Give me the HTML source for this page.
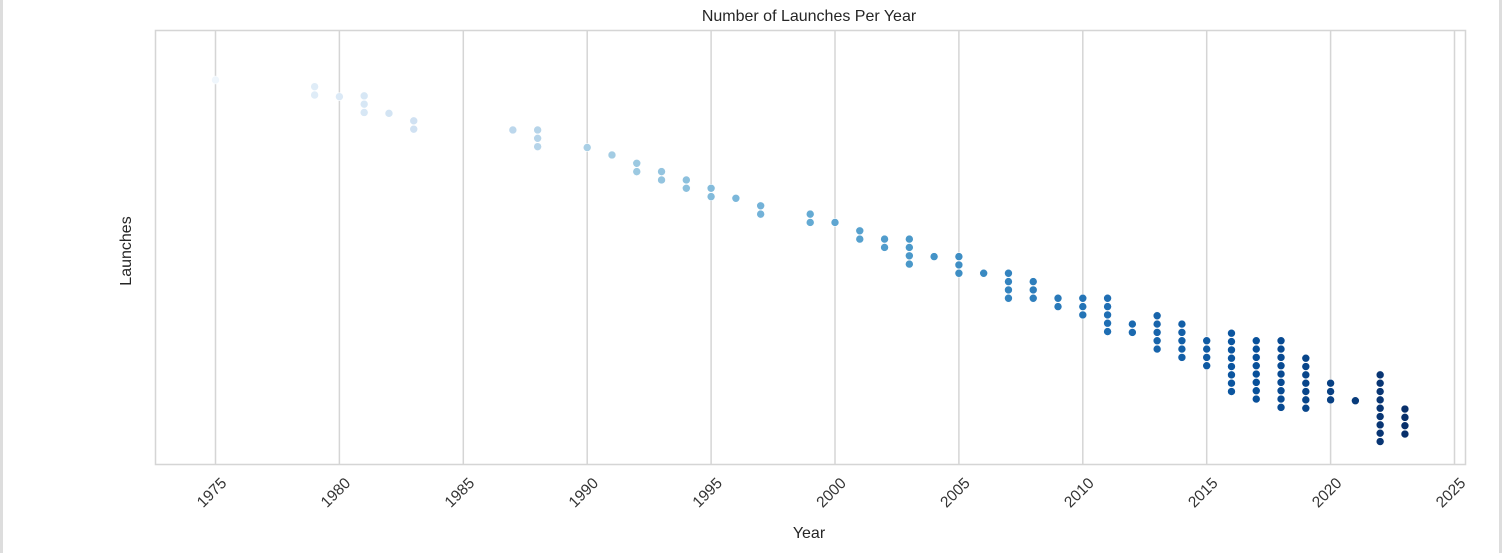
<!DOCTYPE html>
<html><head><meta charset="utf-8"><style>
body{margin:0;background:#fff;width:1502px;height:553px;overflow:hidden;font-family:"Liberation Sans",sans-serif;}
#frame{position:absolute;left:0;top:0;width:1502px;height:553px;box-sizing:border-box;border-left:3px solid #ddd;border-right:3px solid #ddd;}
</style></head><body>
<div id="frame"></div>
<svg id="chart" width="1502" height="553" style="position:absolute;left:0;top:0">
<text x="809" y="21" text-anchor="middle" font-size="16" fill="#262626">Number of Launches Per Year</text>
<text x="809" y="538" text-anchor="middle" font-size="16" fill="#262626">Year</text>
<text transform="translate(131,251) rotate(-90)" text-anchor="middle" font-size="16" fill="#262626">Launches</text>
<g id="grid"></g>
<g id="ticks"></g>
<g id="pts"></g>
<rect x="155.5" y="30.5" width="1310" height="434" fill="none" stroke="#d5d5d5" stroke-width="1.5"/>
</svg>
<script>
const years=[1975,1979,1980,1981,1982,1983,1987,1988,1990,1991,1992,1993,1994,1995,1996,1997,1999,2000,2001,2002,2003,2004,2005,2006,2007,2008,2009,2010,2011,2012,2013,2014,2015,2016,2017,2018,2019,2020,2021,2022,2023];
const counts=[1,2,1,3,1,2,1,3,1,1,2,2,2,2,1,2,2,1,2,2,4,1,3,1,4,3,2,3,5,2,5,5,4,8,8,9,7,3,1,9,4];
const startRank=[0,0.8,2,1.9,4,4.9,6,6,8.1,9,10,11,12,13,14.2,15.1,16.1,17.1,18.1,19.1,19.1,21.2,21.2,23.2,23.2,24.2,26.2,26.2,26.2,29.3,28.3,29.3,31.3,30.4,31.3,31.3,33.4,36.4,38.5,35.4,39.5];
const tickYears=[1975,1980,1985,1990,1995,2000,2005,2010,2015,2020,2025];
const NS="http://www.w3.org/2000/svg";
const xs=y=>215.5+(y-1975)*24.78;
const ys=r=>80+r*8.33;
const stops=[[247,251,255],[222,235,247],[198,219,239],[158,202,225],[107,174,214],[66,146,198],[33,113,181],[8,81,156],[8,48,107]];
function blues(t){t=Math.max(0,Math.min(1,t))*(stops.length-1);const i=Math.min(stops.length-2,Math.floor(t)),f=t-i;const a=stops[i],b=stops[i+1];return`rgb(${a.map((v,k)=>Math.round(v+(b[k]-v)*f)).join(',')})`;}
const grid=document.getElementById('grid'),ticks=document.getElementById('ticks'),pts=document.getElementById('pts');
tickYears.forEach(t=>{
const x=xs(t);
const l=document.createElementNS(NS,'line');


l.setAttribute('x1',x);l.setAttribute('x2',x);l.setAttribute('y1',31);l.setAttribute('y2',464);l.setAttribute('stroke','#d5d5d5');l.setAttribute('stroke-width','1.5');grid.appendChild(l);
const tx=document.createElementNS(NS,'text');


tx.setAttribute('transform',`translate(${x+12},${484}) rotate(-45)`);tx.setAttribute('text-anchor','end');tx.setAttribute('font-size','15.5');tx.setAttribute('fill','#333');tx.textContent=t;ticks.appendChild(tx);
});
years.forEach((yr,i)=>{
for(let k=0;k<counts[i];k++){
const c=document.createElementNS(NS,'circle');


c.setAttribute('cx',xs(yr));c.setAttribute('cy',ys(startRank[i]+k));c.setAttribute('r',4);
c.setAttribute('fill',blues(0.04+(yr-1975)/(2023-1975)*0.96));c.setAttribute('stroke','#fff');c.setAttribute('stroke-width','0.6');
pts.appendChild(c);}
});
</script>
</body></html>
